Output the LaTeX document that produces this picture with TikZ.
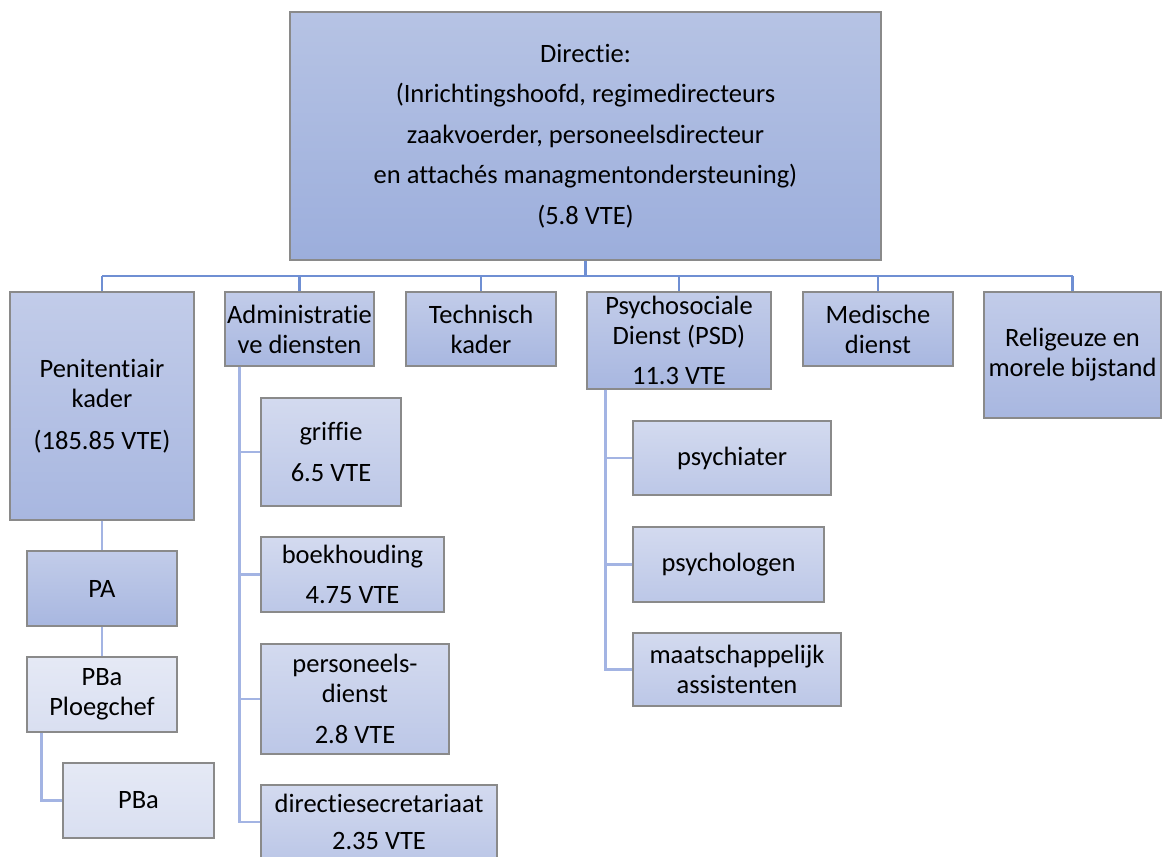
\documentclass[tikz,border=0pt]{standalone}
\usepackage{fontspec}
\setmainfont{Carlito}[Ligatures=NoCommon]
\usetikzlibrary{positioning}

\definecolor{boxline}{HTML}{8A8A8A}
\definecolor{dirtop}{HTML}{B6C3E4}
\definecolor{dirbot}{HTML}{9CAEDC}
\definecolor{lvltop}{HTML}{C2CCE9}
\definecolor{lvlbot}{HTML}{A8B7E0}
\definecolor{subtop}{HTML}{D3DAEF}
\definecolor{subbot}{HTML}{BCC7E7}
\definecolor{paletop}{HTML}{E5E9F5}
\definecolor{palebot}{HTML}{D9DFF1}
\definecolor{busblue}{HTML}{6F8FD3}
\definecolor{twigblue}{HTML}{A3B4E3}

\tikzset{
  unit/.style={draw=boxline, line width=1.3pt, top color=lvltop, bottom color=lvlbot,
    align=center, inner sep=0pt, font=\fontsize{26.5}{30}\selectfont},
  topunit/.style={unit, top color=dirtop, bottom color=dirbot},
  subunit/.style={unit, top color=subtop, bottom color=subbot},
  paleunit/.style={unit, top color=paletop, bottom color=palebot},
  bus/.style={draw=busblue, line width=2.5pt},
  twig/.style={draw=twigblue, line width=2.5pt},
}

\begin{document}
\begin{tikzpicture}[x=1pt, y=-1pt]
    \useasboundingbox (0,0) rectangle (1163,857);

    % directie
    \node[topunit, minimum width=591, minimum height=248] (dir) at (585.5,136)
        {Directie:\\[10.5pt] (Inrichtingshoofd, regimedirecteurs\\[10.5pt]
         zaakvoerder, personeelsdirecteur\\[10.5pt]
         en attachés managmentondersteuning)\\[10.5pt] (5.8 VTE)};

    % eerste niveau
    \node[unit, minimum width=184, minimum height=228] (pen) at (102,406)
        {Penitentiair\\ kader\\[12pt] (185.85 VTE)};
    \node[unit, minimum width=149, minimum height=74] (adm) at (299.5,329)
        {Administratie\\ ve diensten};
    \node[unit, minimum width=150, minimum height=74] (tech) at (481,329)
        {Technisch\\ kader};
    \node[unit, minimum width=184, minimum height=97] (psd) at (679,340.5)
        {Psychosociale\\ Dienst (PSD)\\[10pt] 11.3 VTE};
    \node[unit, minimum width=150, minimum height=74] (med) at (878,329)
        {Medische\\ dienst};
    \node[unit, minimum width=177, minimum height=126] (rel) at (1072.5,355)
        {Religeuze en\\ morele bijstand};

    % penitentiair kader
    \node[unit, minimum width=150, minimum height=75] (pa) at (102,588.5) {PA};
    \node[paleunit, minimum width=150, minimum height=75] (ploeg) at (102,694.5)
        {PBa\\ Ploegchef};
    \node[paleunit, minimum width=151, minimum height=75] (pba) at (138.5,800.5) {PBa};

    % administratieve diensten
    \node[subunit, minimum width=140, minimum height=108] (griffie) at (331,452)
        {griffie\\[10.5pt] 6.5 VTE};
    \node[subunit, minimum width=183, minimum height=75] (boek) at (352.5,574.5)
        {boekhouding\\[10.5pt] 4.75 VTE};
    \node[subunit, minimum width=188, minimum height=110] (pers) at (355,699)
        {personeels-\\ dienst\\[10.5pt] 2.8 VTE};
    \node[subunit, minimum width=236, minimum height=74] (dirsec) at (379,822)
        {directiesecretariaat\\[7pt] 2.35 VTE};

    % psychosociale dienst
    \node[subunit, minimum width=198, minimum height=74] (psych) at (732,458) {psychiater};
    \node[subunit, minimum width=191, minimum height=75] (psylog) at (728.5,564.5) {psychologen};
    \node[subunit, minimum width=208, minimum height=73] (maat) at (737,669.5)
        {maatschappelijk\\ assistenten};

    % verbindingen
    \coordinate (busline) at (585,276);
    \draw[bus] (dir.south) -- (dir.south |- busline);
    \draw[bus] (busline -| pen.north) -- (busline -| rel.north);
    \foreach \n in {pen,adm,tech,psd,med,rel}
        \draw[bus] (busline -| \n.north) -- (\n.north);

    \draw[twig] (pen.south) -- (pa.north);
    \draw[twig] (pa.south) -- (ploeg.north);
    \draw[twig] ([xshift=15pt]ploeg.south west) |- (pba.west);
    \foreach \n in {griffie,boek,pers,dirsec}
        \draw[twig] ([xshift=15pt]adm.south west) |- (\n.west);
    \foreach \n in {psych,psylog,maat}
        \draw[twig] ([xshift=19pt]psd.south west) |- (\n.west);
\end{tikzpicture}
\end{document}
